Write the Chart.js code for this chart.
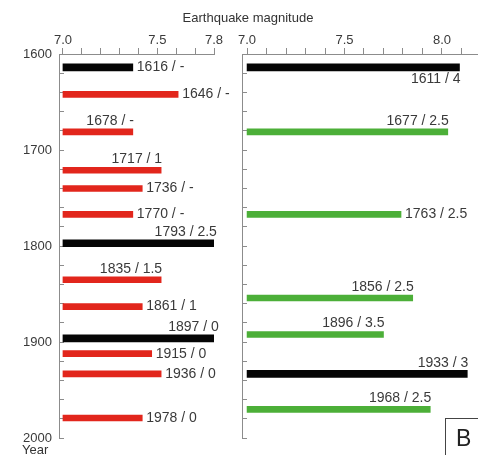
<!DOCTYPE html>
<html>
<head>
<meta charset="utf-8">
<script src="https://cdn.jsdelivr.net/npm/chart.js@4.4.1/dist/chart.umd.min.js"></script>
<style>
  body { margin: 0; background: #fff; font-family: 'Liberation Sans', Arial, sans-serif; }
  #wrap { position: relative; width: 478px; height: 455px; overflow: hidden; }
  canvas { position: absolute; top: 0; }
  #leftChart { left: 0; }
  #rightChart { left: 230px; }
  .txt { position: absolute; color: #333; font-size: 13px; white-space: nowrap; line-height: 16px; }
  #title { left: 0; width: 496px; top: 10px; text-align: center; }
  #yearLbl { left: 22px; top: 442px; }
  #panelTag { left: 445px; top: 418px; width: 40px; height: 40px; border: 1.5px solid #444;
              font-size: 23px; line-height: 38px; padding-left: 10px; color: #222; box-sizing: border-box; }
</style>
</head>
<body>
<div id="wrap">
  <canvas id="leftChart" width="230" height="458"></canvas>
  <canvas id="rightChart" width="248" height="458"></canvas>
  <div class="txt" id="title">Earthquake magnitude</div>
  <div class="txt" id="yearLbl">Year</div>
  <div class="txt" id="panelTag">B</div>
</div>
<script>
// left panel
const leftYears = [1616, 1646, 1678, 1717, 1736, 1770, 1793, 1835, 1861, 1897, 1915, 1936, 1978];
// where each bar sits on the year axis
const leftPlotY = [1614, 1642, 1681, 1721, 1740, 1767, 1797, 1835, 1863, 1896, 1912, 1933, 1979];
const leftMags = [7.37, 7.61, 7.37, 7.52, 7.42, 7.37, 7.81, 7.52, 7.42, 7.82, 7.47, 7.52, 7.42];
const leftLabels = ['1616 / -', '1646 / -', '1678 / -', '1717 / 1', '1736 / -', '1770 / -', '1793 / 2.5',
  '1835 / 1.5', '1861 / 1', '1897 / 0', '1915 / 0', '1936 / 0', '1978 / 0'];
const leftTicks = [7.0, 7.1, 7.2, 7.3, 7.4, 7.5, 7.6, 7.7, 7.8];
const leftTickLabels = ['7.0', '7.5', '7.8'];

// right panel
const rightYears = [1611, 1677, 1763, 1856, 1896, 1933, 1968];
const rightPlotY = [1614, 1681, 1767, 1854, 1892, 1933, 1970];
const rightMags = [8.09, 8.03, 7.79, 7.85, 7.70, 8.13, 7.94];
const rightLabels = ['1611 / 4', '1677 / 2.5', '1763 / 2.5', '1856 / 2.5', '1896 / 3.5', '1933 / 3', '1968 / 2.5'];
const rightTicks = [7.0, 7.1, 7.2, 7.3, 7.4, 7.5, 7.6, 7.7, 7.8, 7.9, 8.0, 8.1];
const rightTickLabels = ['7.0', '7.5', '8.0'];

// events drawn in black
const blackYears = [1611, 1616, 1793, 1897, 1933];

// where each label sits: r = right of bar, a = above, b = below
const leftPlace = ['r', 'r', 'a', 'a', 'r', 'r', 'a', 'a', 'r', 'a', 'r', 'r', 'r'];
const rightPlace = ['b', 'a', 'r', 'a', 'a', 'a', 'a'];

const FONT = "'Liberation Sans', Arial, sans-serif";
const AXIS = '#8c8c8c';
const TEXT = '#3a3a3a';

const barLabels = {
  id: 'barLabels',
  afterDatasetsDraw(chart, args, opts) {
    const { ctx } = chart;
    const xs = chart.scales.x, ys = chart.scales.y;
    ctx.save();
    ctx.font = '14px ' + FONT;
    ctx.fillStyle = TEXT;
    ctx.textBaseline = 'middle';
    opts.plotY.forEach((yv, i) => {
      const px = xs.getPixelForValue(opts.mags[i]);
      const py = ys.getPixelForValue(yv);
      const p = opts.place[i];
      if (p === 'r') {
        ctx.textAlign = 'left';
        ctx.fillText(opts.labels[i], px + 4, py);
      } else if (p === 'a') {
        ctx.textAlign = 'right';
        ctx.fillText(opts.labels[i], px + 1, py - 11);
      } else {
        ctx.textAlign = 'right';
        ctx.fillText(opts.labels[i], px + 1, py + 12);
      }
    });
    ctx.restore();
  }
};

function makePanel(canvasId, years, plotY, mags, labels, place, color, ticks, tickLabels, xMin, xMax, yWidth, padRight, yLabels) {
  const black = [], colored = [];
  years.forEach((yr, i) => {
    (blackYears.includes(yr) ? black : colored).push({ y: plotY[i], x: [7.0, mags[i]] });
  });

  return new Chart(document.getElementById(canvasId), {
    type: 'bar',
    data: {
      datasets: [
        { data: colored, backgroundColor: color, barThickness: 6, grouped: false },
        { data: black, backgroundColor: '#050505', barThickness: 7, grouped: false }
      ]
    },
    options: {
      indexAxis: 'y',
      responsive: false,
      animation: false,
      layout: { padding: { left: 0, right: padRight, top: 0, bottom: 15 } },
      plugins: {
        legend: { display: false },
        tooltip: { enabled: false },
        barLabels: { plotY, mags, labels, place }
      },
      scales: {
        x: {
          type: 'linear',
          position: 'top',
          min: xMin,
          max: xMax,
          afterBuildTicks(scale) {
            scale.ticks = ticks.map(v => ({ value: v }));
          },
          afterFit(scale) { scale.height = 54; },
          ticks: {
            autoSkip: false,
            maxRotation: 0,
            padding: 0,
            color: TEXT,
            font: { family: FONT, size: 13 },
            callback(value) {
              const s = value.toFixed(1);
              return tickLabels.includes(s) ? s : '';
            }
          },
          grid: { drawOnChartArea: false, tickLength: 6, color: AXIS },
          border: { color: AXIS }
        },
        y: {
          type: 'linear',
          reverse: true,
          offset: false,
          min: 1600,
          max: 2000,
          afterFit(scale) { scale.width = yWidth; },
          ticks: {
            stepSize: 20,
            autoSkip: false,
            padding: 12,
            color: TEXT,
            font: { family: FONT, size: 13 },
            callback(value) {
              return yLabels && value % 100 === 0 ? String(value) : '';
            }
          },
          grid: { drawOnChartArea: false, tickLength: -5, color: AXIS, offset: false },
          border: { color: AXIS }
        }
      }
    },
    plugins: [barLabels]
  });
}

makePanel('leftChart', leftYears, leftPlotY, leftMags, leftLabels, leftPlace, '#e2261c',
  leftTicks, leftTickLabels, 6.979, 7.8, 59, 16, true);
makePanel('rightChart', rightYears, rightPlotY, rightMags, rightLabels, rightPlace, '#4caf38',
  rightTicks, rightTickLabels, 6.974, 8.185, 12, 0, false);
</script>
</body>
</html>
